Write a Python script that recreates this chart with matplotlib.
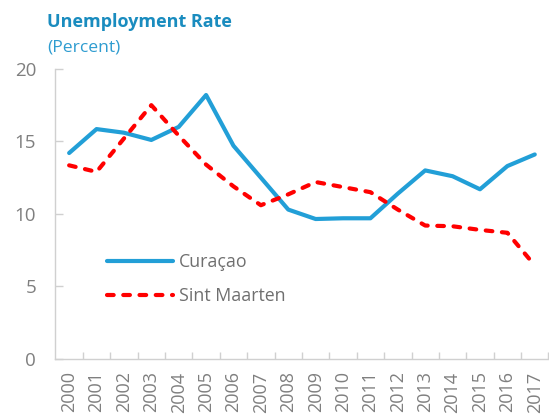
import matplotlib
matplotlib.use("Agg")
import matplotlib.pyplot as plt

years = [str(y) for y in range(2000, 2018)]
curacao = [14.2, 15.85, 15.6, 15.1, 16.0, 18.2, 14.7, 12.5, 10.3, 9.65, 9.7, 9.7,
           11.4, 13.0, 12.6, 11.7, 13.3, 14.1]
sint_maarten = [13.35, 12.9, 15.2, 17.5, 15.4, 13.4, 11.9, 10.6, 11.35, 12.2, 11.85, 11.5,
                10.3, 9.2, 9.15, 8.9, 8.7, 6.45]
yticks = [0, 5, 10, 15, 20]

plt.rcParams['font.family'] = ['Open Sans', 'DejaVu Sans']

fig = plt.figure(figsize=(5.49, 4.15), dpi=100)
ax = fig.add_axes([0.101, 0.135, 0.898, 0.699])

x = list(range(len(years)))
ax.plot(x, curacao, color='#229FD7', lw=3.0, solid_capstyle='round',
        solid_joinstyle='round', label='Curaçao')
ax.plot(x, sint_maarten, color='#FF0000', lw=3.0, dashes=(1.6, 2.3),
        dash_capstyle='round', dash_joinstyle='round', label='Sint Maarten')

ax.set_xlim(-0.5, len(years) - 0.5)
ax.set_ylim(0, 20)
ax.set_yticks(yticks)
ax.set_yticklabels([str(v) for v in yticks])

# category labels at centres, tick marks at boundaries
ax.set_xticks(x)
ax.set_xticklabels(years, rotation=90)
ax.set_xticks([i + 0.5 for i in range(len(years))], minor=True)
ax.tick_params(axis='x', which='major', length=0, pad=9, labelsize=13, labelcolor='#7F7F7F')
ax.tick_params(axis='x', which='minor', direction='in', length=5, color='#D0D0D0', width=1)
ax.tick_params(axis='y', direction='in', length=6, color='#D0D0D0', width=1,
               pad=14, labelsize=13.5, labelcolor='#7F7F7F')

for s in ['top', 'right']:
    ax.spines[s].set_visible(False)
for s in ['left', 'bottom']:
    ax.spines[s].set_color('#D0D0D0')
    ax.spines[s].set_linewidth(1)

leg = ax.legend(loc='upper left', bbox_to_anchor=(100 / 549, 1 - 246 / 415),
                bbox_transform=fig.transFigure, frameon=False, fontsize=12.8,
                handlelength=3.7, handletextpad=0.35, labelspacing=0.9,
                borderaxespad=0)
for t in leg.get_texts():
    t.set_color('#6F6F6F')

fig.text(47 / 549, 1 - 22 / 415, 'Unemployment Rate', fontsize=13, fontweight='bold',
         color='#1A8CBF', va='center', ha='left')
fig.text(47 / 549, 1 - 48 / 415, '(Percent)', fontsize=12.6, color='#2E9CD0',
         va='center', ha='left')

fig.savefig('out.png', dpi=100)
